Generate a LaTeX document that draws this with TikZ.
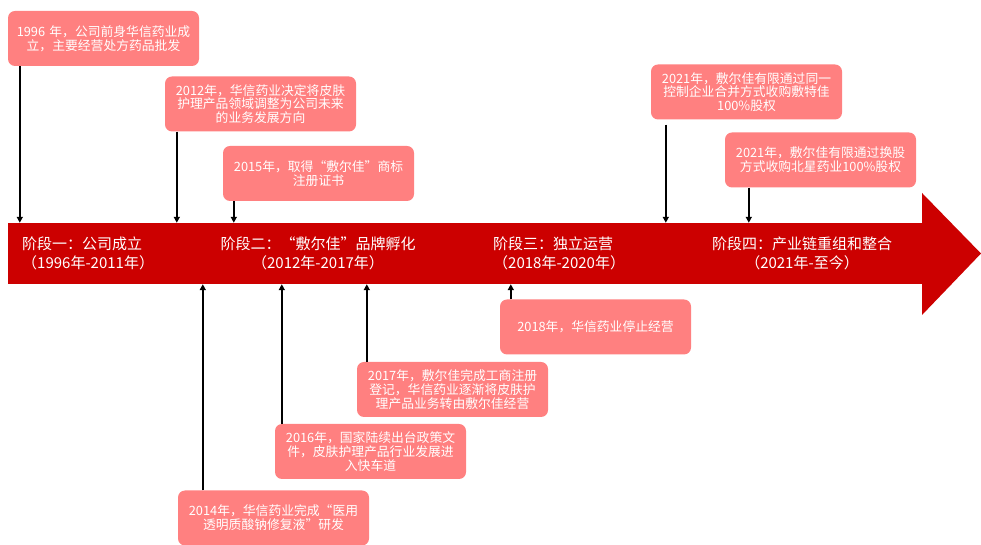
\documentclass[tikz,border=0pt]{standalone}
\usepackage{fontspec}
\setmainfont{Noto Sans CJK SC}
\usepackage{xcolor}
\usetikzlibrary{arrows.meta,positioning,calc}
\definecolor{faixaverm}{RGB}{204,0,0}
\definecolor{caixarosa}{RGB}{255,128,128}
\tikzset{
    evento/.style={
        rectangle,
        fill=caixarosa,
        rounded corners=7pt,
        align=center,
        text=white,
        minimum width=191pt,
        minimum height=55pt,
        text width=186pt,
        inner sep=2pt,
        font=\fontsize{12.8}{13.8}\selectfont
    },
    faixa/.style={
        rectangle,
        fill=faixaverm,
        minimum width=914pt,
        minimum height=61pt,
        inner sep=0pt
    },
    fase/.style={text=white, inner sep=0pt, font=\fontsize{15}{18.5}\selectfont},
    seta/.style={-{Triangle[length=6pt,width=6pt]}, line width=1.6pt}
}

\begin{document}
\begin{tikzpicture}[x=1pt, y=1pt]
        \useasboundingbox (0,0) rectangle (981,545);
        % faixa do tempo
        \node[faixa] (faixa) at (465,291.5) {};
        \fill[faixaverm] (faixa.north east) -- (922,352) -- (981,291.5)
            -- (922,230) -- (faixa.south east) -- cycle;
        \node[fase, anchor=west, align=left] (fase1) at (22,291.5)
            {阶段一：公司成立\\（1996年-2011年）};
        \node[fase, align=center] (fase2) at (318,291.5)
            {阶段二：“敷尔佳”品牌孵化\\（2012年-2017年）};
        \node[fase, anchor=west, align=left] (fase3) at (493,291.5)
            {阶段三：独立运营\\（2018年-2020年）};
        \node[fase, align=center] (fase4) at (802,291.5)
            {阶段四：产业链重组和整合\\（2021年-至今）};
        % eventos acima
        \node[evento] (b1996) at (103.5,506.5)
            {1996 年，公司前身华信药业成\\立，主要经营处方药品批发};
        \node[evento] (b2012) at (260.5,441)
            {2012年，华信药业决定将皮肤\\护理产品领域调整为公司未来\\的业务发展方向};
        \node[evento] (b2015) at (318.5,371.5)
            {2015年，取得“敷尔佳”商标\\注册证书};
        \node[evento] (b2021a) at (746.5,453)
            {2021年，敷尔佳有限通过同一\\控制企业合并方式收购敷特佳\\100\%股权};
        \node[evento] (b2021b) at (820.5,385)
            {2021年，敷尔佳有限通过换股\\方式收购北星药业100\%股权};
        % eventos abaixo
        \node[evento] (b2018) at (595.5,218)
            {2018年，华信药业停止经营};
        \node[evento] (b2017) at (452.5,155.5)
            {2017年，敷尔佳完成工商注册\\登记，华信药业逐渐将皮肤护\\理产品业务转由敷尔佳经营};
        \node[evento] (b2016) at (370.5,93.5)
            {2016年，国家陆续出台政策文\\件，皮肤护理产品行业发展进\\入快车道};
        \node[evento] (b2014) at (273.5,27)
            {2014年，华信药业完成“医用\\透明质酸钠修复液”研发};
        \draw[seta] ([xshift=12pt]b1996.south west) -- ([xshift=12pt]b1996.south west |- faixa.north);
        \draw[seta] ([xshift=12pt]b2012.south west) -- ([xshift=12pt]b2012.south west |- faixa.north);
        \draw[seta] ([xshift=11pt]b2015.south west) -- ([xshift=11pt]b2015.south west |- faixa.north);
        \draw[seta] ([xshift=15pt,yshift=-5pt]b2021a.south west) -- ([xshift=15pt]b2021a.south west |- faixa.north);
        \draw[seta] ([xshift=24pt]b2021b.south west) -- ([xshift=24pt]b2021b.south west |- faixa.north);
        \draw[seta] ([xshift=11pt]b2018.north west) -- ([xshift=11pt]b2018.north west |- faixa.south);
        \draw[seta] ([xshift=10pt]b2017.north west) -- ([xshift=10pt]b2017.north west |- faixa.south);
        \draw[seta] ([xshift=7pt]b2016.north west) -- ([xshift=7pt]b2016.north west |- faixa.south);
        \draw[seta] ([xshift=25pt]b2014.north west) -- ([xshift=25pt]b2014.north west |- faixa.south);
    \end{tikzpicture}
\end{document}
